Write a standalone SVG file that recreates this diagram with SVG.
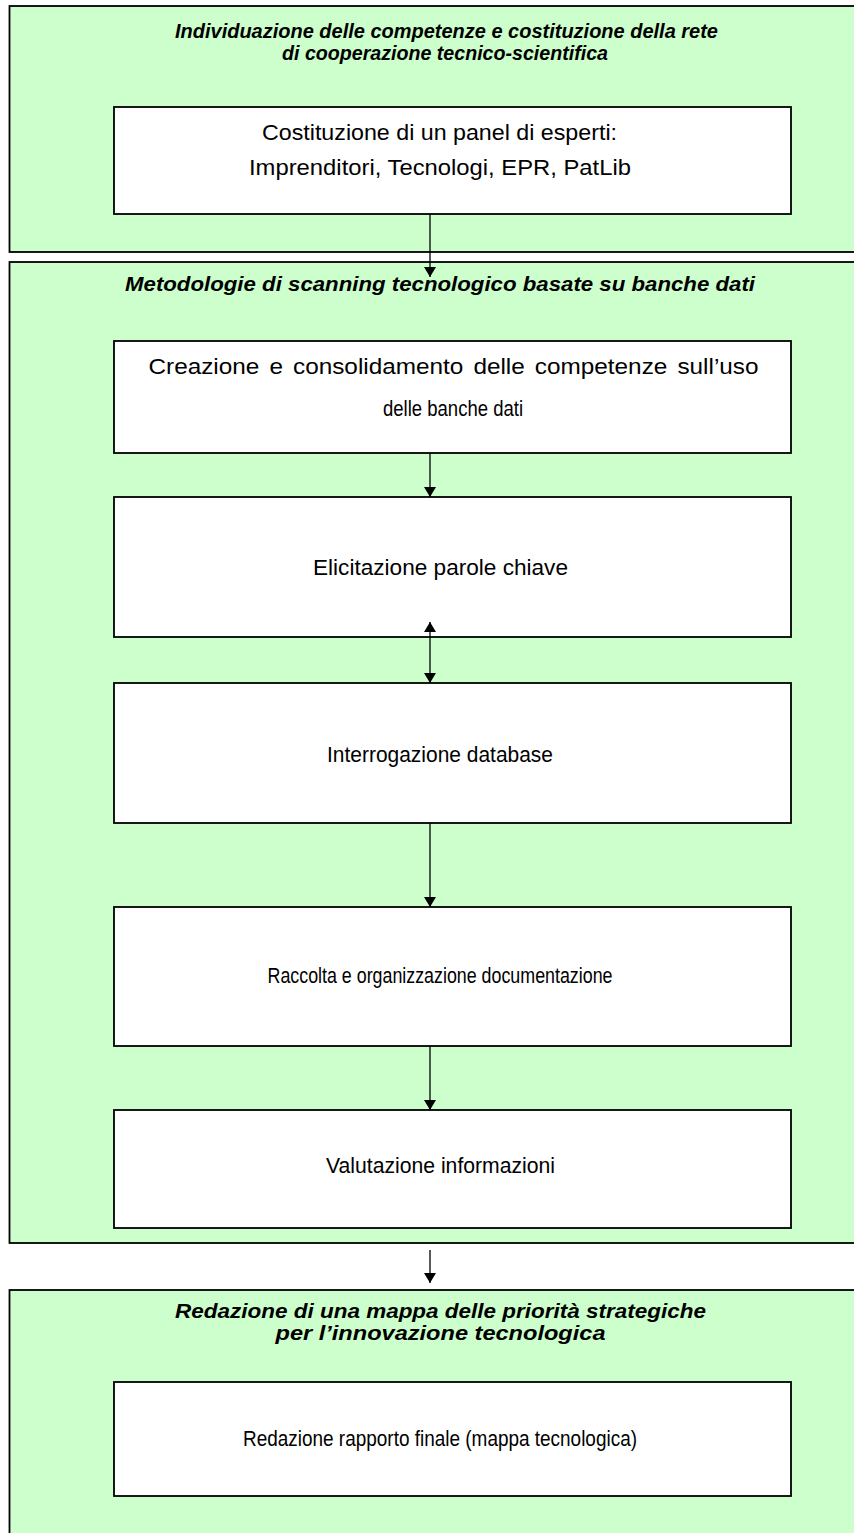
<svg xmlns="http://www.w3.org/2000/svg" width="854" height="1533" viewBox="0 0 854 1533">
<style>
.outer{fill:#CCFFCC;stroke:#000;stroke-width:1.8}
.inner{fill:#fff;stroke:#000;stroke-width:1.8}
.title{font-family:"Liberation Sans",Arial,sans-serif;font-weight:bold;font-style:italic;font-size:20px;text-anchor:middle;fill:#000}
.big{font-size:21px}
.lbl{font-family:"Liberation Sans",Arial,sans-serif;font-size:22px;text-anchor:middle;fill:#000}
.con{stroke:#000;stroke-width:1.3;fill:none}
</style>
<defs>
<marker id="ah" viewBox="0 0 10 12" refX="10" refY="6" markerWidth="10" markerHeight="12" markerUnits="userSpaceOnUse" orient="auto">
<path d="M0,0 L10,6 L0,12 Z" fill="#000"/>
</marker>
<marker id="ahs" viewBox="0 0 10 12" refX="10" refY="6" markerWidth="10" markerHeight="12" markerUnits="userSpaceOnUse" orient="auto-start-reverse">
<path d="M0,0 L10,6 L0,12 Z" fill="#000"/>
</marker>
</defs>
<g id="phase1">
<rect class="outer" x="9.5" y="6" width="900" height="246"/>
<text class="title" x="446.5" y="38" textLength="543" lengthAdjust="spacingAndGlyphs">Individuazione delle competenze e costituzione della rete</text>
<text class="title" x="445" y="60" textLength="326" lengthAdjust="spacingAndGlyphs">di cooperazione tecnico-scientifica</text>
</g>
<g id="phase2">
<rect class="outer" x="9.5" y="262" width="900" height="981"/>
<text class="title big" x="440" y="291" textLength="630" lengthAdjust="spacingAndGlyphs">Metodologie di scanning tecnologico basate su banche dati</text>
</g>
<g id="phase3">
<rect class="outer" x="9.5" y="1290" width="900" height="300"/>
<text class="title big" x="440.5" y="1318" textLength="531" lengthAdjust="spacingAndGlyphs">Redazione di una mappa delle priorità strategiche</text>
<text class="title big" x="440.5" y="1340" textLength="330" lengthAdjust="spacingAndGlyphs">per l’innovazione tecnologica</text>
</g>
<g id="panel">
<rect class="inner" x="114" y="107" width="677" height="107"/>
<text class="lbl" x="439.5" y="140" textLength="355" lengthAdjust="spacingAndGlyphs">Costituzione di un panel di esperti:</text>
<text class="lbl" x="440" y="175" textLength="382" lengthAdjust="spacingAndGlyphs">Imprenditori, Tecnologi, EPR, PatLib</text>
</g>
<g id="creazione">
<rect class="inner" x="114" y="341" width="677" height="112"/>
<text class="lbl" x="453.5" y="374" textLength="610" lengthAdjust="spacingAndGlyphs" style="word-spacing:3px">Creazione e consolidamento delle competenze sull’uso</text>
<text class="lbl" x="453" y="416" textLength="140" lengthAdjust="spacingAndGlyphs">delle banche dati</text>
</g>
<g id="elicitazione">
<rect class="inner" x="114" y="497" width="677" height="140"/>
<text class="lbl" x="440.5" y="575" textLength="255" lengthAdjust="spacingAndGlyphs">Elicitazione parole chiave</text>
</g>
<g id="interrogazione">
<rect class="inner" x="114" y="683" width="677" height="140"/>
<text class="lbl" x="440" y="762" textLength="226" lengthAdjust="spacingAndGlyphs">Interrogazione database</text>
</g>
<g id="raccolta">
<rect class="inner" x="114" y="907" width="677" height="139"/>
<text class="lbl" x="440" y="983" textLength="345" lengthAdjust="spacingAndGlyphs">Raccolta e organizzazione documentazione</text>
</g>
<g id="valutazione">
<rect class="inner" x="114" y="1110" width="677" height="118"/>
<text class="lbl" x="440.5" y="1173" textLength="229" lengthAdjust="spacingAndGlyphs">Valutazione informazioni</text>
</g>
<g id="rapporto">
<rect class="inner" x="114" y="1382" width="677" height="114"/>
<text class="lbl" x="440" y="1446" textLength="394" lengthAdjust="spacingAndGlyphs">Redazione rapporto finale (mappa tecnologica)</text>
</g>
<g id="connectors">
<line class="con" x1="430" y1="214" x2="430" y2="277" marker-end="url(#ah)"/>
<line class="con" x1="430" y1="453" x2="430" y2="497" marker-end="url(#ah)"/>
<line class="con" x1="430" y1="622" x2="430" y2="683" marker-start="url(#ahs)" marker-end="url(#ah)"/>
<line class="con" x1="430" y1="823" x2="430" y2="907" marker-end="url(#ah)"/>
<line class="con" x1="430" y1="1046" x2="430" y2="1110" marker-end="url(#ah)"/>
<line class="con" x1="430" y1="1250" x2="430" y2="1283" marker-end="url(#ah)"/>
</g>
</svg>
